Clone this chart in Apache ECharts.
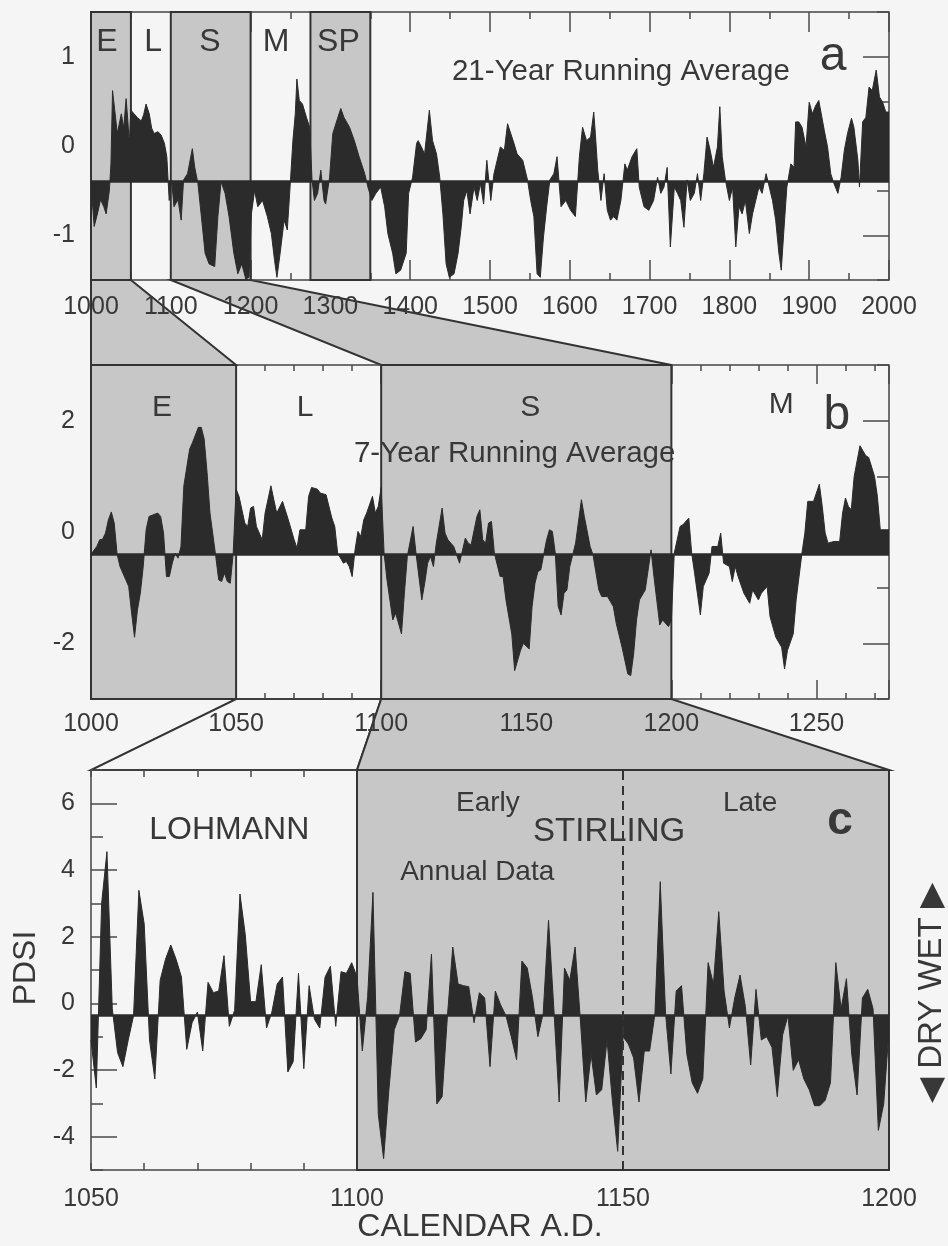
<!DOCTYPE html>
<html>
<head>
<meta charset="utf-8">
<script src="https://cdn.jsdelivr.net/npm/echarts@6/dist/echarts.min.js"></script>
<style>
  html, body { margin: 0; padding: 0; background: #f5f5f5; }
  #main { width: 948px; height: 1246px; }
</style>
</head>
<body>
<div id="main"></div>
<script>
// panel a: 21-year running average, 1000-2000
const yearsA = [1000,1001,1004,1008,1012,1016,1019,1023,1025,1027,1031,1033,1038,1041,1044,1046,1048,1050,1054,1058,1063,1066,1069,1073,1076,1079,1084,1088,1092,1095,1098,1101,1104,1109,1113,1116,1121,1127,1130,1134,1138,1143,1148,1155,1159,1163,1168,1173,1179,1184,1189,1194,1198,1201,1205,1209,1215,1221,1226,1230,1233,1237,1242,1246,1250,1253,1256,1258,1261,1265,1270,1274,1277,1280,1284,1288,1292,1294,1299,1303,1309,1313,1317,1324,1330,1336,1343,1347,1352,1357,1363,1368,1372,1378,1382,1388,1395,1398,1403,1408,1410,1414,1418,1424,1428,1433,1437,1441,1445,1449,1455,1460,1464,1467,1471,1475,1480,1484,1488,1492,1496,1501,1505,1509,1513,1518,1522,1526,1530,1534,1541,1547,1551,1555,1559,1563,1567,1571,1575,1580,1584,1589,1595,1601,1607,1612,1616,1621,1626,1630,1632,1635,1639,1643,1647,1651,1655,1659,1664,1669,1672,1678,1684,1687,1693,1699,1705,1710,1714,1718,1722,1726,1731,1735,1739,1743,1747,1751,1756,1760,1764,1768,1772,1776,1780,1785,1788,1791,1795,1800,1804,1808,1812,1816,1820,1825,1829,1833,1837,1841,1846,1850,1854,1858,1862,1865,1868,1872,1877,1881,1883,1887,1891,1896,1900,1904,1908,1912,1914,1919,1923,1927,1931,1936,1940,1944,1948,1953,1956,1961,1963,1967,1971,1975,1979,1984,1988,1992,1996,2000];
const pdsiA = [-0.83,-0.55,-0.9,-0.76,-0.6,-0.68,-0.76,-0.5,-0.2,0.62,0.3,0.14,0.36,0.2,0.53,0.3,0.03,0.4,0.36,0.32,0.28,0.35,0.47,0.36,0.2,0.14,0.16,0.12,0.03,-0.12,-0.61,-0.38,-0.68,-0.6,-0.83,-0.38,-0.31,-0.03,-0.24,-0.42,-0.76,-1.2,-1.32,-1.35,-0.79,-0.4,-0.53,-0.79,-1.2,-1.43,-1.32,-1.49,-1.47,-0.76,-0.5,-0.68,-0.61,-0.79,-0.98,-1.28,-1.47,-1.2,-0.83,-0.94,-0.38,0.06,0.36,0.75,0.51,0.47,0.32,0.21,-0.38,-0.61,-0.53,-0.27,-0.61,-0.65,-0.35,0.14,0.31,0.42,0.32,0.21,0.06,-0.12,-0.31,-0.46,-0.61,-0.53,-0.46,-0.68,-0.98,-1.2,-1.43,-1.39,-1.2,-0.53,-0.35,0.03,0.06,-0.01,-0.09,0.4,0.06,-0.09,-0.35,-0.76,-1.32,-1.47,-1.43,-1.2,-0.9,-0.61,-0.5,-0.76,-0.46,-0.61,-0.42,-0.65,-0.16,-0.61,-0.31,-0.16,-0.01,-0.05,0.25,0.14,0.03,-0.09,-0.16,-0.38,-0.61,-0.79,-1.43,-1.47,-1.02,-0.68,-0.38,-0.31,-0.12,-0.68,-0.61,-0.72,-0.79,-0.12,0.21,0.06,0.1,0.38,0.14,-0.27,-0.61,-0.31,-0.72,-0.83,-0.79,-0.83,-0.61,-0.2,-0.27,-0.12,-0.03,-0.46,-0.68,-0.72,-0.61,-0.35,-0.53,-0.46,-0.24,-1.13,-0.46,-0.53,-0.61,-0.91,-0.38,-0.61,-0.53,-0.31,-0.61,-0.31,0.1,-0.05,-0.24,-0.01,0.44,-0.12,-0.38,-0.61,-0.46,-1.13,-0.68,-0.76,-0.61,-0.98,-0.76,-0.61,-0.46,-0.53,-0.31,-0.46,-0.61,-0.83,-1.2,-1.39,-0.98,-0.46,-0.2,-0.24,0.27,0.27,0.21,-0.01,0.49,0.36,0.45,0.51,0.53,0.17,-0.01,-0.31,-0.42,-0.53,-0.35,-0.05,0.14,0.31,0.21,-0.16,-0.46,0.27,0.32,0.66,0.62,0.85,0.55,0.49,0.38,0.38];

// panel b: 7-year running average, 1000-1275
const yearsB = [1000,1002,1003,1004,1005,1006,1007,1008,1009,1010,1012,1013,1014,1015,1016,1017,1018,1019,1020,1021,1023,1024,1025,1026,1027,1028,1029,1030,1031,1032,1034,1035,1037,1038,1039,1040,1041,1043,1044,1045,1046,1047,1048,1049,1050,1051,1053,1054,1055,1056,1057,1059,1060,1062,1063,1064,1066,1068,1070,1071,1072,1074,1075,1076,1078,1079,1081,1083,1084,1085,1087,1088,1089,1090,1091,1092,1093,1094,1095,1097,1098,1099,1100,1101,1102,1104,1105,1107,1108,1109,1111,1112,1114,1115,1116,1117,1118,1119,1121,1122,1123,1125,1127,1129,1130,1131,1133,1134,1135,1136,1137,1138,1139,1141,1142,1143,1145,1146,1148,1149,1151,1152,1153,1154,1155,1157,1158,1159,1160,1161,1162,1163,1164,1165,1167,1169,1170,1172,1173,1175,1176,1178,1180,1181,1183,1185,1186,1187,1188,1189,1191,1193,1194,1196,1197,1199,1200,1201,1203,1204,1206,1207,1208,1210,1211,1213,1214,1216,1217,1218,1220,1221,1222,1223,1225,1227,1228,1230,1231,1233,1234,1236,1238,1239,1240,1242,1243,1245,1246,1247,1249,1251,1252,1253,1254,1256,1258,1259,1260,1261,1262,1263,1265,1267,1268,1270,1271,1272,1275];
const pdsiB = [-0.4,-0.26,-0.14,-0.13,-0.02,0.22,0.36,0.16,-0.4,-0.62,-0.86,-0.98,-1.46,-1.89,-1.4,-1.1,-0.62,0.04,0.28,0.3,0.34,0.28,-0.02,-0.8,-0.8,-0.56,-0.38,-0.47,-0.26,0.83,1.49,1.61,1.88,1.88,1.67,1.07,0.34,-0.44,-0.86,-0.89,-0.74,-0.89,-0.92,-0.38,0.77,0.64,0.16,0.1,0.43,0.46,0.1,-0.14,0.34,0.83,0.58,0.34,0.55,0.22,-0.14,-0.29,0.04,0.04,0.64,0.8,0.77,0.7,0.67,0.25,0.1,-0.38,-0.56,-0.53,-0.62,-0.8,-0.32,0.01,-0.08,0.22,0.34,0.64,0.34,0.46,0.8,-0.38,-0.86,-1.58,-1.46,-1.83,-1.1,-0.44,0.1,-0.38,-1.22,-0.92,-0.56,-0.44,-0.62,-0.2,0.43,-0.02,-0.14,-0.26,-0.56,-0.11,-0.2,-0.23,0.28,0.4,-0.14,-0.2,0.16,0.19,-0.38,-0.8,-0.8,-1.22,-1.83,-2.49,-2.13,-2.0,-2.1,-1.34,-0.92,-0.71,-0.68,-0.14,0.04,0.01,-0.38,-1.34,-1.49,-1.1,-1.04,-0.62,-0.2,0.58,0.28,-0.26,-0.41,-1.04,-1.16,-1.16,-1.34,-1.64,-2.07,-2.55,-2.58,-2.19,-1.58,-1.22,-1.04,-0.32,-0.8,-1.67,-1.58,-1.7,-1.58,-0.38,0.1,0.13,0.25,-0.38,-0.74,-1.49,-0.98,-0.74,-0.26,-0.26,-0.02,-0.56,-0.62,-0.89,-0.62,-0.8,-1.1,-1.28,-1.04,-1.22,-1.1,-0.98,-1.52,-1.89,-2.07,-2.46,-2.13,-1.83,-1.22,-0.38,-0.02,0.55,0.55,0.86,0.46,-0.02,-0.2,-0.17,-0.17,0.34,0.61,0.46,0.4,1.0,1.55,1.37,1.34,1.0,0.64,0.04,0.04];

// panel c: annual data, 1050-1200
const yearsC = [1050,1051,1052,1053,1054,1055,1056,1057,1058,1059,1060,1061,1062,1063,1064,1065,1066,1067,1068,1069,1070,1071,1072,1073,1074,1075,1076,1077,1078,1079,1080,1081,1082,1083,1084,1085,1086,1087,1088,1089,1090,1091,1092,1093,1094,1095,1096,1097,1098,1099,1100,1101,1102,1103,1104,1105,1106,1107,1108,1109,1110,1111,1112,1113,1114,1115,1116,1117,1118,1119,1120,1121,1122,1123,1124,1125,1126,1127,1128,1129,1130,1131,1132,1133,1134,1135,1136,1137,1138,1139,1140,1141,1142,1143,1144,1145,1146,1147,1148,1149,1150,1151,1152,1153,1154,1155,1156,1157,1158,1159,1160,1161,1162,1163,1164,1165,1166,1167,1168,1169,1170,1171,1172,1173,1174,1175,1176,1177,1178,1179,1180,1181,1182,1183,1184,1185,1186,1187,1188,1189,1190,1191,1192,1193,1194,1195,1196,1197,1198,1199,1200];
const pdsiC = [-1.1,-2.54,3.0,4.55,-0.16,-1.48,-1.9,-1.1,-0.37,3.39,2.38,-1.1,-2.27,0.69,1.32,1.75,1.32,0.79,-1.38,-0.58,-0.26,-1.43,0.63,0.32,0.37,1.43,-0.69,-0.21,3.28,2.06,0.05,0.05,1.16,-0.74,-0.26,0.58,0.79,-2.06,-1.75,0.9,-1.96,0.53,-0.48,-0.74,0.79,1.11,-0.69,0.95,0.9,1.22,0.79,-1.43,0.2,3.33,-3.33,-4.66,-2.59,-0.79,-0.37,0.95,0.9,-1.16,-1.06,-0.79,1.48,-3.02,-2.8,-0.37,1.69,0.58,0.53,0.5,-0.58,0.32,0.16,-1.9,0.37,-0.05,-0.37,-1.0,-1.69,1.27,1.06,0.16,-1.0,-0.3,2.49,-0.16,-2.96,1.06,0.69,1.69,-0.53,-2.96,-1.53,-2.75,-2.59,-1.1,-2.91,-4.44,-1.0,-1.22,-1.64,-2.96,-1.43,-1.43,-0.32,3.65,-0.3,-2.12,0.37,0.53,-1.53,-2.38,-2.7,-2.27,1.22,0.58,2.75,0.37,-0.74,0.16,0.85,-0.1,-1.85,0.42,-1.1,-1.0,-1.32,-2.8,-0.95,-0.37,-2.01,-1.69,-2.27,-2.59,-3.07,-3.07,-2.91,-2.38,1.22,-0.16,0.74,-1.53,-2.75,0.16,0.42,-0.16,-3.81,-3.02,-0.79];

// shaded periods and baselines
const zonesA = [[1000, 1050], [1100, 1200], [1275, 1350]];
const zonesB = [[1000, 1050], [1100, 1200]];
const zonesC = [[1100, 1200]];
const baseA = -0.4, baseB = -0.4, baseC = -0.35;

const dark = '#2b2b2b';
const shade = '#c7c7c7';
const txt = '#383838';
const font = '"Liberation Sans", Arial, sans-serif';
const tickStyle = { color: '#4a4a4a', width: 1.5 };

let chart = echarts.init(document.getElementById('main'));

function xPair(g, min, max, step, split, majorLen, minorLen, margin) {
  let base = {
    gridIndex: g, type: 'value', min: min, max: max, interval: step,
    axisLine: { show: false, onZero: false }, splitLine: { show: false },
    axisTick: { inside: true, length: majorLen, lineStyle: tickStyle },
    minorTick: { show: true, splitNumber: split, length: minorLen, lineStyle: tickStyle }
  };
  return [
    Object.assign({}, base, {
      position: 'bottom',
      axisLabel: { margin: margin, fontSize: 25, color: txt, fontFamily: font,
        formatter: v => (v % step === 0 ? String(v) : '') }
    }),
    Object.assign({}, base, { position: 'top', axisLabel: { show: false } })
  ];
}

function yPair(g, min, max, step, majors, pos) {
  let minorAx = {
    gridIndex: g, type: 'value', position: pos, min: min, max: max, interval: step,
    axisLine: { show: false, onZero: false }, splitLine: { show: false },
    axisTick: { inside: true, length: 12, lineStyle: tickStyle },
    axisLabel: pos === 'left'
      ? { margin: 16, fontSize: 25, color: txt, fontFamily: font,
          formatter: v => (majors.includes(v) ? String(v) : '') }
      : { show: false }
  };
  let majorAx = {
    gridIndex: g, type: 'value', position: pos, min: min, max: max,
    axisLine: { show: false, onZero: false }, splitLine: { show: false },
    axisTick: { inside: true, length: 26, customValues: majors, lineStyle: tickStyle },
    axisLabel: { show: false }
  };
  return [minorAx, majorAx];
}

function panel(g, years, vals, base, zones, yMin, yMax, extraLines) {
  return {
    type: 'line', xAxisIndex: 2 * g, yAxisIndex: 4 * g,
    data: years.map((y, i) => [y, vals[i]]),
    symbol: 'none', showSymbol: false,
    lineStyle: { width: 1, color: dark },
    areaStyle: { color: dark, opacity: 1, origin: base },
    markLine: {
      silent: true, symbol: 'none', label: { show: false },
      lineStyle: { color: dark, width: 2.5, type: 'solid' },
      data: [{ yAxis: base }].concat(extraLines || [])
    },
    markArea: {
      silent: true,
      itemStyle: { color: shade, borderColor: '#333', borderWidth: 2 },
      data: zones.map(z => [{ xAxis: z[0], yAxis: yMin }, { xAxis: z[1], yAxis: yMax }])
    }
  };
}

let option = {
  backgroundColor: '#f5f5f5',
  animation: false,
  grid: [
    { left: 91, top: 12, width: 798, height: 268, show: true, borderColor: '#444', borderWidth: 1.5 },
    { left: 91, top: 365, width: 798, height: 334, show: true, borderColor: '#444', borderWidth: 1.5 },
    { left: 91, top: 770, width: 798, height: 400, show: true, borderColor: '#444', borderWidth: 1.5 }
  ],
  xAxis: [].concat(
    xPair(0, 1000, 2000, 100, 2, 20, 7, 15),
    xPair(1, 1000, 1275, 50, 5, 19, 6, 13),
    xPair(2, 1050, 1200, 50, 5, 7, 7, 17)
  ),
  yAxis: [].concat(
    yPair(0, -1.5, 1.5, 0.5, [-1, 0, 1], 'left'),
    yPair(0, -1.5, 1.5, 0.5, [-1, 0, 1], 'right'),
    yPair(1, -3, 3, 1, [-2, 0, 2], 'left'),
    yPair(1, -3, 3, 1, [-2, 0, 2], 'right'),
    yPair(2, -5, 7, 1, [-4, -2, 0, 2, 4, 6], 'left'),
    yPair(2, -5, 7, 1, [-4, -2, 0, 2, 4, 6], 'right')
  ),
  series: [
    panel(0, yearsA, pdsiA, baseA, zonesA, -1.5, 1.5),
    panel(1, yearsB, pdsiB, baseB, zonesB, -3, 3),
    panel(2, yearsC, pdsiC, baseC, zonesC, -5, 7,
      [{ xAxis: 1150, lineStyle: { type: [9, 6], width: 2, color: '#333' } }])
  ]
};
chart.setOption(option);

// zoom links between panels: [fromSeries, toSeries, startYear, endYear, filled]
const links = [
  [0, 1, 1000, 1050, true],
  [0, 1, 1100, 1200, true],
  [1, 2, 1050, 1100, false],
  [1, 2, 1100, 1200, true]
];
const bottomOf = [-1.5, -3, -5];
const topOf = [1.5, 3, 7];

// text annotations: [series, text, year, value, size, weight]
const notes = [
  [0, 'E', 1020, 1.16, 32, 'normal'], [0, 'L', 1078, 1.16, 32, 'normal'],
  [0, 'S', 1149, 1.16, 32, 'normal'], [0, 'M', 1232, 1.16, 32, 'normal'],
  [0, 'SP', 1310, 1.16, 32, 'normal'],
  [0, '21-Year Running Average', 1664, 0.83, 29.5, 'normal'],
  [0, 'a', 1930, 1.0, 48, 'normal'],
  [1, 'E', 1024.5, 2.23, 30, 'normal'], [1, 'L', 1073.8, 2.23, 30, 'normal'],
  [1, 'S', 1151.4, 2.23, 30, 'normal'], [1, 'M', 1237.9, 2.28, 30, 'normal'],
  [1, '7-Year Running Average', 1146, 1.41, 29.5, 'normal'],
  [1, 'b', 1257, 2.09, 48, 'normal'],
  [2, 'LOHMANN', 1076, 5.19, 32, 'normal'],
  [2, 'Early', 1124.6, 6.0, 28, 'normal'],
  [2, 'STIRLING', 1147.4, 5.15, 33, 'normal'],
  [2, 'Annual Data', 1122.6, 3.93, 28, 'normal'],
  [2, 'Late', 1173.9, 6.0, 28, 'normal'],
  [2, 'c', 1190.8, 5.46, 46, 'bold']
];

let els = [];
links.forEach(l => {
  let p = [
    chart.convertToPixel({ seriesIndex: l[0] }, [l[2], bottomOf[l[0]]]),
    chart.convertToPixel({ seriesIndex: l[0] }, [l[3], bottomOf[l[0]]]),
    chart.convertToPixel({ seriesIndex: l[1] }, [l[3], topOf[l[1]]]),
    chart.convertToPixel({ seriesIndex: l[1] }, [l[2], topOf[l[1]]])
  ];
  els.push({
    type: 'polygon', z: -10, silent: true,
    shape: { points: p },
    style: { fill: l[4] ? shade : 'none', stroke: '#333', lineWidth: 2 }
  });
});
notes.forEach(n => {
  let p = chart.convertToPixel({ seriesIndex: n[0] }, [n[2], n[3]]);
  els.push({
    type: 'text', x: p[0], y: p[1], z: 100, silent: true,
    style: { text: n[1], fill: txt, font: n[5] + ' ' + n[4] + 'px ' + font,
      align: 'center', verticalAlign: 'middle' }
  });
});
els.push({
  type: 'text', x: 26, y: 968, rotation: Math.PI / 2, z: 100,
  style: { text: 'PDSI', fill: txt, font: '32px ' + font, align: 'center', verticalAlign: 'middle' }
});
els.push({
  type: 'text', x: 480, y: 1227, z: 100,
  style: { text: 'CALENDAR A.D.', fill: txt, font: '32px ' + font, align: 'center', verticalAlign: 'middle' }
});
els.push({
  type: 'text', x: 932, y: 993, rotation: Math.PI / 2, z: 100,
  style: { text: '\u25C0 DRY WET \u25B6', fill: txt, font: '33px ' + font, align: 'center', verticalAlign: 'middle' }
});
chart.setOption({ graphic: { elements: els } });
</script>
</body>
</html>
